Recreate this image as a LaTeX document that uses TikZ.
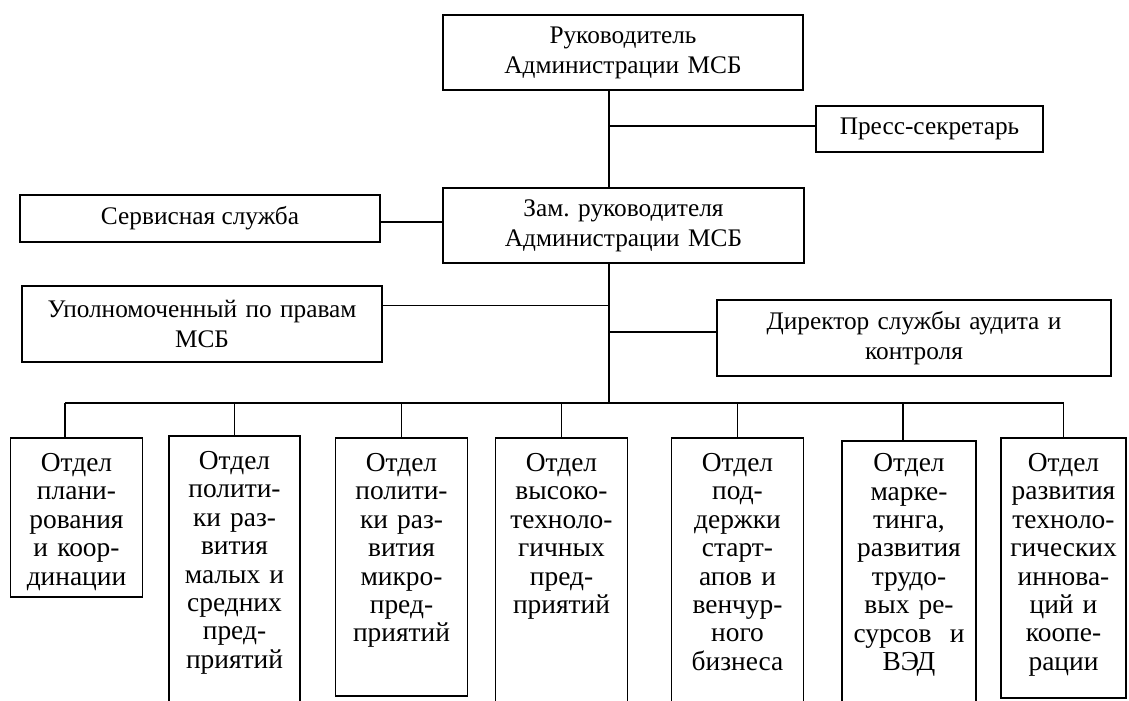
\documentclass[tikz,border=0pt]{standalone}
\usepackage{fontspec}
\setmainfont{Liberation Serif}
\usepackage{tikz}
\usetikzlibrary{shapes,positioning,calc}
\tikzstyle{blok} = [rectangle, draw=black, line width=1.1pt, align=center, inner sep=0pt]
\tikzstyle{otdel} = [rectangle, draw=black, line width=1.1pt, anchor=north, inner sep=0pt, minimum width=3.3cm]
\tikzstyle{tekst} = [align=center, inner sep=0pt, text width=3.2cm, font=\fontsize{19.5}{20.2}\selectfont]
\tikzstyle{linija} = [line width=1.1pt]

\begin{document}
\begin{tikzpicture}[x=0.025cm, y=-0.025cm, font=\fontsize{18}{21.3}\selectfont]
	\useasboundingbox (0,0) rectangle (1129,700);
	\node (ruk) at (623,52.5) [blok, text width=8.5cm, minimum width=9cm, minimum height=1.875cm] {Руководитель\\Администрации МСБ};
	\node (press) at (929.5,129) [blok, minimum width=5.675cm, minimum height=1.15cm] {Пресс-секретарь};
	\node (zam) at (623.5,225.5) [blok, text width=8.5cm, minimum width=9.025cm, minimum height=1.875cm] {Зам.\ руководителя\\Администрации МСБ};
	\node (serv) at (200,218.5) [blok, minimum width=9cm, minimum height=1.175cm] {Сервисная служба};
	\node (upol) at (202,324) [blok, text width=8.5cm, minimum width=9cm, minimum height=1.9cm] {Уполномоченный по правам\\МСБ};
	\node (dir) at (914,338) [blok, text width=9.3cm, minimum width=9.85cm, minimum height=1.9cm] {Директор службы аудита и\\контроля};
	% otdely
	\node (o1) at (76.5,437) [otdel, minimum height=3.975cm] {};
	\node (o2) at (234.5,435) [otdel, minimum width=3.275cm, minimum height=6.8cm] {};
	\node (o3) at (401.5,437) [otdel, minimum height=6.45cm] {};
	\node (o4) at (561.5,437) [otdel, minimum height=6.8cm] {};
	\node (o5) at (737.5,437) [otdel, minimum height=6.8cm] {};
	\node (o6) at (909,440) [otdel, minimum width=3.35cm, minimum height=6.7cm] {};
	\node (o7) at (1063.5,437) [otdel, minimum width=3.125cm, minimum height=6.5cm] {};
	\node (t1) [tekst, below=0.4cm of o1.north] {Отдел\\плани-\\рования\\и коор-\\динации};
	\node (t2) [tekst, below=0.4cm of o2.north] {Отдел\\полити-\\ки раз-\\вития\\малых и\\средних\\пред-\\приятий};
	\node (t3) [tekst, below=0.4cm of o3.north] {Отдел\\полити-\\ки раз-\\вития\\микро-\\пред-\\приятий};
	\node (t4) [tekst, below=0.4cm of o4.north] {Отдел\\высоко-\\техноло-\\гичных\\пред-\\приятий};
	\node (t5) [tekst, below=0.4cm of o5.north] {Отдел\\под-\\держки\\старт-\\апов и\\венчур-\\ного\\бизнеса};
	\node (t6) [tekst, below=0.33cm of o6.north] {Отдел\\марке-\\тинга,\\развития\\трудо-\\вых ре-\\сурсов\ \ и\\ВЭД};
	\node (t7) [tekst, below=0.4cm of o7.north] {Отдел\\развития\\техноло-\\гических\\иннова-\\ций и\\коопе-\\рации};
	\coordinate (stvol) at (609,403);
	\coordinate (k1) at ([xshift=-0.29cm]o1.north);
	\coordinate (k6) at ([xshift=-0.15cm]o6.north);
	\coordinate (u) at ($(upol.north east)!.26!(upol.south east)$);
	\coordinate (d) at ($(dir.north west)!.42!(dir.south west)$);
	\draw[linija] (ruk.south -| stvol) -- (zam.north -| stvol);
	\draw[linija] (zam.south -| stvol) -- (stvol);
	\draw[linija] ([yshift=0.075cm]press.west) -- ([yshift=0.075cm]press.west -| stvol);
	\draw[linija] ([yshift=-0.085cm]serv.east) -- ([yshift=-0.085cm]serv.east -| zam.west);
	\draw[linija] (u) -- (u -| stvol);
	\draw[linija] (d) -- (d -| stvol);
	\draw[linija] (k1 |- stvol) -- (o7.north |- stvol);
	\draw[linija] (k1) -- (k1 |- stvol);
	\draw[linija] (o2.north) -- (o2.north |- stvol);
	\draw[linija] (o3.north) -- (o3.north |- stvol);
	\draw[linija] (o4.north) -- (o4.north |- stvol);
	\draw[linija] (o5.north) -- (o5.north |- stvol);
	\draw[linija] (k6) -- (k6 |- stvol);
	\draw[linija] (o7.north) -- (o7.north |- stvol);
\end{tikzpicture}
\end{document}
